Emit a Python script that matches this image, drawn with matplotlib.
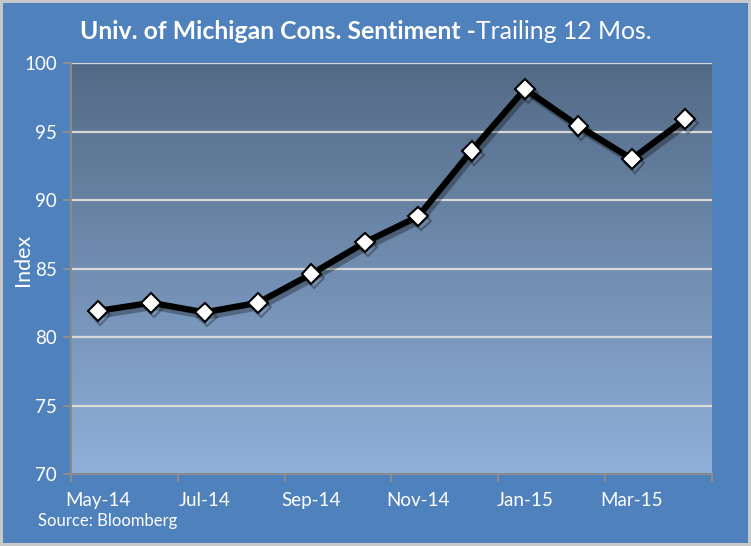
# Univ. of Michigan consumer sentiment, trailing 12 months
import numpy as np
import matplotlib
matplotlib.use("Agg")
import matplotlib.pyplot as plt
import matplotlib.patheffects as pe

months = ["May-14", "Jun-14", "Jul-14", "Aug-14", "Sep-14", "Oct-14",
          "Nov-14", "Dec-14", "Jan-15", "Feb-15", "Mar-15", "Apr-15"]
sentiment = [81.9, 82.5, 81.8, 82.5, 84.6, 86.9, 88.8, 93.6, 98.1, 95.4, 93.0, 95.9]
y_ticks = [70, 75, 80, 85, 90, 95, 100]

plt.rcParams['font.family'] = ['Lato', 'DejaVu Sans']

bg = "#4f81bd"
fig = plt.figure(figsize=(7.51, 5.46), dpi=100, facecolor=bg)
fig.patch.set_edgecolor("#c8c8c8")
fig.patch.set_linewidth(3)

ax = fig.add_axes([71 / 751, 1 - 474 / 546, 641 / 751, 411 / 546])
ax.set_facecolor(bg)

x = np.arange(len(months))
ax.set_xlim(-0.5, len(months) - 0.5)
ax.set_ylim(70, 100)

# vertical gradient for the plot area
grad = np.linspace(0, 1, 256).reshape(-1, 1)
cmap = matplotlib.colors.LinearSegmentedColormap.from_list("g", ["#8fb0da", "#536a86"])
ax.imshow(grad, aspect="auto", cmap=cmap, origin="lower",
          extent=[-0.5, len(months) - 0.5, 70, 100], zorder=0)

ax.set_yticks(y_ticks)
for yt in y_ticks[1:]:
    ax.axhline(yt, color="#d9d9d9", lw=1.6, zorder=1)

ax.plot(x, sentiment, color="black", lw=4.5, marker="D", ms=10,
        mfc="white", mec="black", mew=1.5, zorder=3,
        path_effects=[pe.SimpleLineShadow(offset=(2, -3), shadow_color="black", alpha=0.3),
                      pe.Normal()])

# ticks at category boundaries every two months, labels centred on the month
ax.set_xticks(np.arange(-0.5, len(months), 2))
ax.set_xticklabels([])
ax.set_xticks(x[::2], minor=True)
ax.set_xticklabels(months[::2], minor=True)
ax.tick_params(axis="x", which="minor", length=0, pad=13, labelsize=13.5, labelcolor="white")
ax.tick_params(axis="x", which="major", length=6, width=1.5, color="#8c8c8c")
ax.tick_params(axis="y", length=6, width=1.5, color="#8c8c8c", labelsize=13.5,
               labelcolor="white", pad=4)

for side in ["top", "right"]:
    ax.spines[side].set_visible(False)
for side in ["left", "bottom"]:
    ax.spines[side].set_color("#8c8c8c")
    ax.spines[side].set_linewidth(1.5)

ax.set_ylabel("Index", color="white", fontsize=15.5)
ax.yaxis.set_label_coords(-0.059, 0.52)

fig.text(0.634, 0.942, "Univ. of Michigan Cons. Sentiment -", color="white",
         fontsize=17.8, fontweight="bold", ha="right", va="center")
fig.text(0.634, 0.942, "Trailing 12 Mos.", color="white",
         fontsize=17.8, ha="left", va="center")
fig.text(38 / 751, 1 - 521 / 546, "Source: Bloomberg", color="white",
         fontsize=12, ha="left", va="center")

fig.savefig("out.png", dpi=100, facecolor=bg, edgecolor=fig.patch.get_edgecolor())
